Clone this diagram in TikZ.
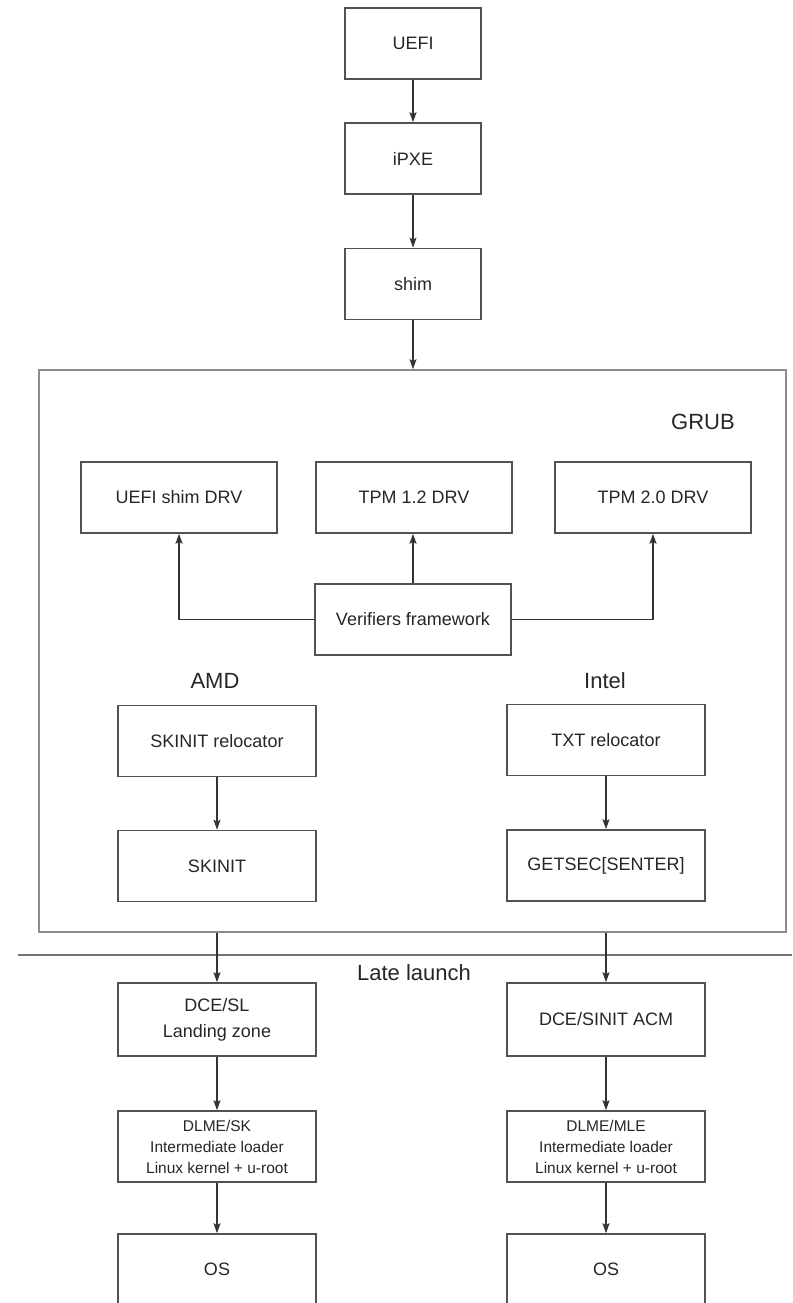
\documentclass[tikz,border=0pt]{standalone}
\usepackage{fontspec}
\setmainfont{Liberation Sans}
\usetikzlibrary{arrows.meta,positioning,calc}

\begin{document}
\begin{tikzpicture}[
    x=1pt, y=-1pt,
    >={Stealth[length=10pt,width=7pt,inset=2pt]},
    font=\fontsize{18}{26}\selectfont,
    box/.style={rectangle, draw=black!68, line width=1.6pt, minimum width=198pt,
                minimum height=71pt, align=center, inner sep=2pt, text=black!85},
    drv/.style={box, minimum width=196pt},
    boot/.style={box, minimum width=136pt},
    dlme/.style={box, font=\fontsize{15.5}{21}\selectfont},
    frame/.style={rectangle, draw=black!45, line width=1.6pt,
                  minimum width=747pt, minimum height=562pt},
    title/.style={font=\fontsize{22}{26}\selectfont, text=black!85, inner sep=0pt},
    arr/.style={->, line width=1.4pt, draw=black!80},
    sep/.style={line width=2pt, draw=black!55}
]

\useasboundingbox (0,0) rectangle (792,1303);
\clip (0,0) rectangle (792,1303);

% ---- Boot chain (absolute positions, px) ----
\node[boot] (uefi) at (413,43.5)  {UEFI};
\node[boot] (ipxe) at (413,158.5) {iPXE};
\node[boot] (shim) at (413,284)   {shim};

\draw[arr] (uefi) -- (ipxe);
\draw[arr] (ipxe) -- (shim);

% ---- GRUB ----
\node[frame] (grub) at (412.5,651) {};
\node[title] (grublbl) at (703,422) {GRUB};
\draw[arr] (shim.south) -- (shim.south |- grub.north);

\node[drv] (shimdrv) at (179,497.5) {UEFI shim DRV};
\node[drv] (tpm12)   at (414,497.5) {TPM 1.2 DRV};
\node[drv] (tpm20)   at (653,497.5) {TPM 2.0 DRV};
\node[drv] (verif)   at (413,619.5) {Verifiers framework};

\draw[arr] (verif.west) -| (shimdrv.south);
\draw[arr] (verif.north) -- (verif.north |- tpm12.south);
\draw[arr] (verif.east) -| (tpm20.south);

% ---- AMD / Intel paths ----
\node[title] (amd)   at (215,681) {AMD};
\node[title] (intel) at (605,681) {Intel};

\node[box] (skreloc)  at (217,741)   {SKINIT relocator};
\node[box] (skinit)   at (217,866)   {SKINIT};
\node[box] (txtreloc) at (606,740)   {TXT relocator};
\node[box] (getsec)   at (606,865.5) {GETSEC[SENTER]};

\draw[arr] (skreloc) -- (skinit);
\draw[arr] (txtreloc) -- (getsec);

% ---- Late launch ----
\coordinate (llwest) at (18,955);
\coordinate (lleast) at (792,955);
\draw[sep] (llwest) -- (lleast);
\node[title] (late) at (414,973) {Late launch};

\node[box, minimum height=73pt] (dcesl)    at (217,1019.5) {DCE/SL\\Landing zone};
\node[box, minimum height=73pt] (dcesinit) at (606,1019.5) {DCE/SINIT ACM};
\node[dlme] (dlmesk)  at (217,1146.5) {DLME/SK\\Intermediate loader\\Linux kernel + u-root};
\node[dlme] (dlmemle) at (606,1146.5) {DLME/MLE\\Intermediate loader\\Linux kernel + u-root};
\node[box] (osamd)   at (217,1269.5) {OS};
\node[box] (osintel) at (606,1269.5) {OS};

\draw[arr] (skinit.south |- grub.south) -- (dcesl.north);
\draw[arr] (getsec.south |- grub.south) -- (dcesinit.north);
\draw[arr] (dcesl) -- (dlmesk);
\draw[arr] (dcesinit) -- (dlmemle);
\draw[arr] (dlmesk) -- (osamd);
\draw[arr] (dlmemle) -- (osintel);

\end{tikzpicture}
\end{document}
